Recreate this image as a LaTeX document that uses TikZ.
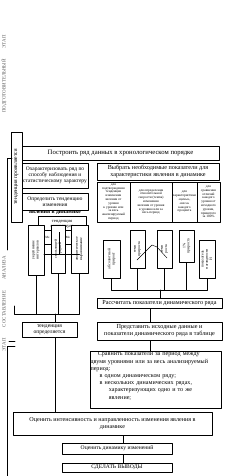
\documentclass[tikz,border=0pt]{standalone}
\usepackage{fontspec}
\setmainfont{Liberation Serif}
\begin{document}
\begin{tikzpicture}[x=0.05cm,y=-0.05cm,line cap=round,line join=round,
  blk/.style={draw,fill=white,line width=0.9pt,inner sep=0.6pt,align=center,font=\fontsize{8}{9}\selectfont},
  dsc/.style={draw,fill=white,line width=0.7pt,inner sep=0.4pt,align=center,minimum height=2cm,font=\fontsize{4.9}{5.4}\selectfont},
  vbox/.style={draw,fill=white,line width=0.9pt,rotate=90,inner sep=0.4pt,align=center,font=\fontsize{5.4}{6}\selectfont},
  lnk/.style={line width=0.9pt},
  stage/.style={rotate=90,inner sep=0pt,text=black!65,font=\fontsize{7}{8}\selectfont}]
\useasboundingbox (0,0) rectangle (224,476);
% stage labels on the left
\node[stage] (st1a) at (4,42) {ЭТАП};
\node[stage] (st1b) at (4,86) {ПОДГОТОВИТЕЛЬНЫЙ};
\node[stage] (st2a) at (4,268) {АНАЛИЗА};
\node[stage] (st2b) at (4,309) {СОСТАВЛЕНИЕ};
\node[stage] (st2c) at (4,345) {ЭТАП};
% upper part
\node[vbox,minimum width=4.5cm,minimum height=0.55cm,font=\fontsize{8}{9}\selectfont] (tproj) at (16.5,177) {тенденция проявляется};
\node[blk,minimum width=9.85cm,minimum height=0.7cm,font=\fontsize{9.5}{10.5}\selectfont] (postr) at (120.5,153) {Построить ряд данных в хронологическом порядке};
\node[blk,minimum width=3.3cm,minimum height=1.25cm,font=\fontsize{7.8}{8.6}\selectfont] (ohar) at (55,175.5) {Охарактеризовать ряд по\\способу наблюдения и\\статистическому характеру};
\node[blk,minimum width=3.3cm,minimum height=0.85cm,font=\fontsize{7.8}{8.6}\selectfont] (opred) at (55,201.5) {Определить тенденцию\\изменения};
\node[inner sep=0pt,font=\bfseries\fontsize{8}{9}\selectfont] (javl) at (55,213) {явления в динамике};
\node[blk,minimum width=2.4cm,minimum height=0.8cm,font=\fontsize{6.5}{7}\selectfont] (otsut) at (62,224) {тенденция\\отсутствует};
\node[blk,minimum width=0.35cm,minimum height=0.7cm,inner sep=0.2pt,font=\fontsize{4.5}{5}\selectfont] (me1) at (47.5,237) {Ме};
\node[blk,minimum width=0.35cm,minimum height=0.7cm,inner sep=0.2pt,font=\fontsize{4.5}{5}\selectfont] (me2) at (68,237) {Ме};
\node[vbox,minimum width=2.5cm,minimum height=0.8cm] (ukr) at (36,250) {укрупнение\\интервалов};
\node[vbox,minimum width=2.4cm,minimum height=0.7cm] (skol) at (58,249) {скользящей\\средней};
\node[vbox,minimum width=2.4cm,minimum height=0.85cm] (anal) at (79.5,249) {аналитическое\\выравнивание};
% indicators
\node[blk,minimum width=6.1cm,minimum height=0.85cm,font=\fontsize{8.8}{9.8}\selectfont] (vybr) at (158,171.5) {Выбрать необходимые показатели для\\характеристики явления в динамике};
\node[dsc,minimum width=1.65cm] (d1) at (113.5,202) {для\\подтверждения\\тенденции\\изменения\\явления от\\уровня\\к уровню или\\за весь\\анализируемый\\период};
\node[dsc,minimum width=2.1cm] (d2) at (151,202) {для определения\\относительной\\скорости (темпа)\\изменения\\явления от уровня\\к уровню или за\\весь период};
\node[dsc,minimum width=1.25cm] (d3) at (184.5,202) {для\\характеристики\\«цены»,\\«веса»\\каждого\\процента};
\node[dsc,minimum width=1.15cm] (d4) at (208.5,202) {для\\сравнения\\отличий\\каждого\\уровня от\\исходного\\уровня,\\принятого\\за 100\%};
\node[vbox,minimum width=1.9cm,minimum height=0.85cm] (r1) at (111.5,259) {абсолютный\\прирост};
\node[vbox,minimum width=1.9cm,minimum height=0.75cm] (r2) at (137.5,249) {темп\\прироста};
\node[vbox,minimum width=1.9cm,minimum height=0.75cm] (r3) at (164.5,249) {темп\\роста};
\node[vbox,minimum width=1.6cm,minimum height=0.75cm] (r4) at (186.5,246) {1\%\\прироста};
\node[vbox,minimum width=1.9cm,minimum height=0.8cm] (r5) at (207,259) {показатель\\наглядности\\Н};
% lower part
\node[blk,minimum width=6.25cm,minimum height=0.5cm,inner sep=0.3pt,font=\fontsize{8.8}{9.5}\selectfont] (rassch) at (159.5,303) {Рассчитать показатели динамического ряда};
\node[blk,minimum width=6.25cm,minimum height=0.9cm,font=\fontsize{8.8}{9.8}\selectfont] (pred) at (159.5,331) {Представить исходные данные и\\показатели динамического ряда в таблице};
\node[blk,minimum width=2.75cm,minimum height=0.75cm,font=\fontsize{8}{9}\selectfont] (topr) at (49.5,329.5) {тенденция\\определяется};
\node[blk,anchor=north,text width=6.5cm,minimum height=2.8cm,align=left,font=\fontsize{8.7}{10.3}\selectfont] (sravn) at (155.5,351) {\hspace*{1.2em}Сравнить показатели за период между\\двумя уровнями или за весь анализируемый\\период:\\\hspace*{1.5em}в одном динамическом ряду;\\\hspace*{1.5em}в нескольких динамических рядах,\\\hspace*{3em}характеризующих одно и то же\\\hspace*{3em}явление;\\[2pt]\mbox{}};
\node[blk,minimum width=9.95cm,minimum height=1.15cm,font=\fontsize{8.7}{10}\selectfont] (ocen) at (112.5,423.5) {Оценить интенсивность и направленность изменения явления в\\динамике};
\node[blk,minimum width=5.5cm,minimum height=0.55cm,font=\fontsize{8}{9}\selectfont] (dinam) at (117,448.5) {Оценить динамику изменений};
\node[blk,minimum width=5.5cm,minimum height=0.45cm,inner sep=0.3pt,font=\fontsize{8}{9}\selectfont] (vyvod) at (117,467.5) {СДЕЛАТЬ ВЫВОДЫ};
% connectors
\coordinate (brR) at (160,290);
\coordinate (brL) at (55,314);
\coordinate (brLend) at (14,306);
\coordinate (mL1) at (44,254);
\coordinate (mL2) at (79.5,254);
\coordinate (cO) at (59,0);
\coordinate (cR) at (150,0);
\coordinate (cM) at (123,0);
\draw[lnk] (r1.west) -- (r1.west |- brR) -- (r5.west |- brR) -- (r5.west);
\draw[lnk] (r2.west) -- (r2.west |- brR);
\draw[lnk] (r3.west) -- (r3.west |- brR);
\draw[lnk] (r4.west) -- (r4.west |- brR);
\draw[lnk] (brR) -- (brR |- rassch.north);
\draw[lnk] (brLend) |- (anal.west |- brL) -- (anal.west);
\draw[lnk] (ukr.west) -- (ukr.west |- brL);
\draw[lnk] (skol.west) -- (skol.west |- brL);
\draw[lnk] (brL) -- (brL |- topr.north);
\draw[lnk] (mL1) -- (mL2);
\draw[lnk] (cO |- otsut.south) -- (cO |- mL1);
\draw[lnk] (cR |- rassch.south) -- (cR |- pred.north);
\draw[lnk] (cR |- pred.south) -- (cR |- sravn.north);
\draw[lnk] (brL |- topr.south) -- (brL |- ocen.north);
\draw[lnk] (cM |- ocen.south) -- (cM |- dinam.north);
\draw[lnk] (cM |- dinam.south) -- (cM |- vyvod.north);
\draw[line width=0.6pt] (137,260) -- (152,245) -- (157,247) -- (167,258);
% stage brackets
\coordinate (sA) at (12,158);
\coordinate (sAend) at (7,250);
\coordinate (sB1) at (9,341);
\coordinate (sB2) at (15,341);
\coordinate (sC) at (15,346);
\coordinate (sCend) at (7,476);
\draw[lnk] (sA) -| (sAend);
\draw[lnk] (sB1) -- (sB2);
\draw[lnk] (sC) -| (sCend);
\end{tikzpicture}
\end{document}
